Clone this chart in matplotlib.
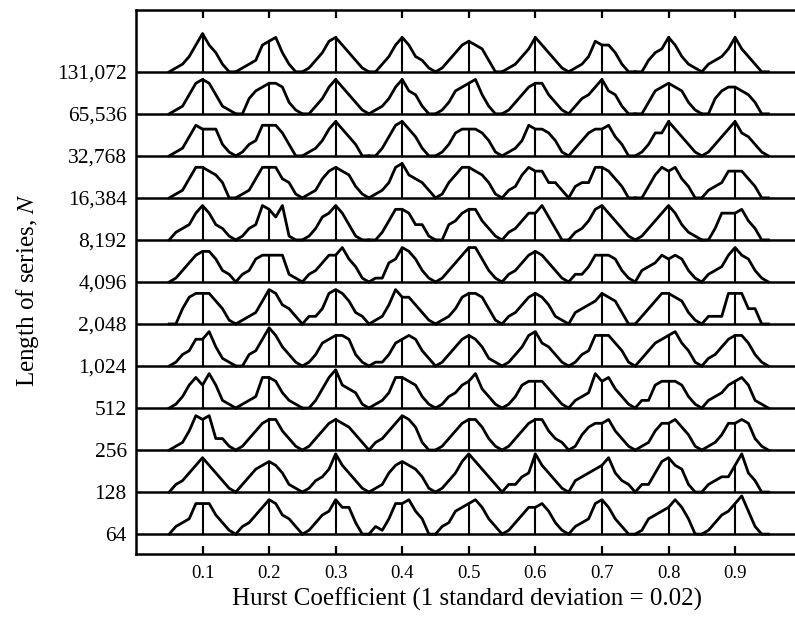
import numpy as np
import matplotlib.pyplot as plt

plt.rcParams['font.family'] = ['Liberation Serif', 'DejaVu Serif']
plt.rcParams['mathtext.fontset'] = 'stix'

# true Hurst values of the simulated series
hurst = [0.1, 0.2, 0.3, 0.4, 0.5, 0.6, 0.7, 0.8, 0.9]
# histogram bins, relative to the true value
offsets = [-0.04, -0.03, -0.02, -0.01, 0.0, 0.01, 0.02, 0.03, 0.04]
row_labels = ['64', '128', '256', '512', '1,024', '2,048', '4,096',
              '8,192', '16,384', '32,768', '65,536', '131,072']

# histogram heights, one list of 9 bins per Hurst value
n_131072 = [[1, 2, 4, 7, 10, 7, 5, 2, 0], [1, 2, 3, 7, 8, 9, 5, 2, 0],
            [1, 3, 5, 8, 9, 7, 5, 3, 1], [0, 2, 4, 7, 9, 7, 4, 3, 1],
            [1, 3, 5, 7, 8, 7, 6, 3, 0], [1, 2, 4, 6, 9, 7, 5, 3, 1],
            [1, 2, 4, 8, 7, 7, 5, 2, 0], [0, 3, 5, 6, 9, 7, 4, 2, 1],
            [2, 3, 4, 6, 9, 6, 4, 2, 0]]
n_65536 = [[1, 2, 5, 8, 9, 8, 5, 2, 1], [0, 4, 6, 7, 8, 8, 7, 3, 1],
           [0, 2, 4, 7, 9, 7, 5, 3, 1], [1, 2, 4, 7, 9, 6, 5, 2, 0],
           [1, 3, 6, 7, 8, 9, 5, 2, 0], [1, 3, 5, 7, 8, 8, 5, 3, 1],
           [2, 4, 5, 7, 9, 6, 5, 2, 0], [0, 3, 6, 7, 8, 7, 6, 3, 1],
           [0, 4, 6, 7, 7, 6, 5, 3, 0]]
n_32768 = [[1, 2, 5, 8, 7, 7, 7, 3, 1], [1, 3, 4, 8, 8, 8, 6, 3, 0],
           [1, 2, 4, 7, 9, 7, 5, 3, 0], [0, 2, 5, 8, 9, 7, 5, 2, 0],
           [1, 3, 6, 7, 7, 7, 6, 4, 1], [1, 2, 4, 8, 7, 7, 6, 4, 1],
           [2, 4, 6, 7, 7, 8, 5, 3, 0], [1, 3, 6, 6, 9, 7, 5, 3, 1],
           [1, 3, 5, 7, 9, 6, 5, 3, 1]]
n_16384 = [[1, 2, 5, 8, 8, 7, 6, 4, 0], [1, 2, 5, 8, 8, 8, 5, 4, 1],
           [1, 2, 5, 7, 8, 7, 6, 3, 1], [1, 2, 4, 8, 9, 6, 5, 4, 2],
           [1, 4, 6, 8, 8, 7, 6, 4, 1], [2, 3, 6, 8, 7, 7, 4, 4, 2],
           [3, 4, 4, 8, 8, 7, 5, 3, 0], [0, 3, 6, 8, 7, 8, 5, 3, 0],
           [2, 3, 4, 7, 7, 7, 5, 3, 0]]
n_8192 = [[2, 3, 4, 7, 9, 7, 4, 3, 1], [1, 3, 4, 9, 8, 6, 9, 1, 0],
          [1, 3, 6, 7, 9, 7, 4, 1, 0], [0, 2, 5, 8, 8, 7, 4, 4, 1],
          [0, 4, 5, 7, 8, 8, 5, 3, 1], [2, 3, 5, 7, 7, 9, 6, 3, 0],
          [2, 3, 5, 8, 9, 7, 5, 3, 1], [1, 3, 5, 7, 9, 7, 4, 2, 1],
          [0, 3, 7, 7, 7, 8, 5, 3, 0]]
n_4096 = [[1, 3, 5, 7, 8, 8, 6, 3, 2], [2, 3, 6, 7, 7, 7, 7, 2, 1],
          [2, 3, 5, 7, 7, 9, 6, 4, 1], [1, 1, 5, 6, 9, 8, 6, 3, 1],
          [1, 3, 5, 7, 9, 9, 6, 3, 1], [2, 3, 5, 7, 8, 7, 5, 3, 1],
          [2, 2, 4, 7, 7, 7, 6, 3, 1], [3, 4, 5, 7, 6, 7, 6, 3, 1],
          [2, 3, 4, 7, 9, 7, 6, 3, 1]]
n_2048 = [[0, 4, 7, 8, 8, 8, 6, 4, 1], [1, 2, 3, 6, 9, 8, 5, 4, 2],
          [2, 2, 4, 8, 9, 8, 6, 3, 2], [1, 2, 5, 9, 7, 7, 5, 3, 1],
          [1, 2, 4, 7, 8, 8, 7, 4, 1], [2, 3, 5, 7, 8, 7, 5, 2, 1],
          [3, 4, 5, 6, 8, 7, 6, 3, 0], [2, 4, 6, 8, 8, 7, 6, 3, 1],
          [2, 2, 2, 8, 8, 8, 4, 4, 0]]
n_1024 = [[1, 3, 4, 7, 7, 9, 5, 2, 1], [0, 3, 4, 7, 10, 8, 5, 3, 1],
          [1, 3, 6, 7, 8, 8, 7, 3, 1], [1, 1, 3, 6, 7, 8, 7, 4, 2],
          [1, 3, 5, 7, 8, 7, 5, 2, 1], [1, 3, 5, 8, 9, 6, 5, 3, 1],
          [1, 3, 4, 8, 8, 8, 6, 4, 1], [2, 4, 6, 7, 8, 9, 6, 4, 1],
          [2, 3, 5, 7, 8, 8, 6, 3, 1]]
n_512 = [[1, 3, 6, 8, 6, 9, 6, 2, 1], [1, 2, 3, 8, 8, 7, 4, 2, 1],
         [0, 2, 5, 8, 10, 6, 5, 4, 1], [1, 2, 4, 8, 8, 7, 6, 3, 1],
         [1, 3, 4, 6, 7, 9, 5, 3, 1], [1, 3, 6, 7, 7, 7, 5, 3, 1],
         [2, 3, 4, 9, 7, 8, 5, 3, 1], [2, 2, 6, 7, 7, 7, 6, 3, 1],
         [2, 3, 4, 6, 7, 8, 6, 2, 1]]
n_256 = [[1, 2, 5, 9, 8, 9, 3, 3, 1], [1, 3, 5, 7, 8, 8, 5, 3, 1],
         [1, 3, 5, 7, 8, 7, 6, 4, 2], [2, 3, 5, 7, 9, 8, 6, 2, 0],
         [1, 3, 5, 7, 8, 8, 6, 3, 1], [1, 3, 5, 7, 8, 8, 5, 3, 2],
         [1, 4, 6, 7, 7, 8, 5, 3, 1], [1, 2, 5, 7, 7, 8, 6, 4, 1],
         [1, 2, 4, 7, 7, 8, 7, 3, 1]]
n_128 = [[2, 3, 5, 7, 9, 7, 5, 3, 1], [2, 4, 6, 7, 8, 7, 5, 2, 1],
         [1, 3, 4, 6, 10, 7, 5, 3, 1], [1, 2, 5, 7, 8, 7, 6, 4, 1],
         [1, 3, 5, 8, 10, 8, 6, 4, 2], [2, 2, 4, 5, 10, 7, 5, 3, 1],
         [3, 4, 5, 6, 7, 9, 5, 3, 2], [2, 2, 5, 8, 9, 7, 6, 2, 0],
         [2, 3, 4, 4, 7, 10, 5, 3, 0]]
n_64 = [[2, 3, 4, 8, 8, 8, 5, 3, 1], [2, 3, 5, 7, 9, 8, 5, 4, 2],
        [1, 3, 5, 6, 9, 7, 7, 3, 0], [2, 1, 4, 8, 8, 9, 6, 4, 0],
        [2, 3, 6, 7, 8, 9, 7, 4, 2], [1, 3, 5, 7, 7, 8, 6, 3, 1],
        [2, 3, 4, 8, 9, 7, 4, 2, 0], [1, 4, 5, 6, 7, 9, 7, 4, 0],
        [1, 3, 5, 6, 8, 10, 6, 2, 0]]

rows = [n_64, n_128, n_256, n_512, n_1024, n_2048, n_4096,
        n_8192, n_16384, n_32768, n_65536, n_131072]

gap = 11  # vertical distance between the baselines

fig = plt.figure(figsize=(7.95, 6.18), dpi=100)
ax = fig.add_axes([0.171, 0.1036, 0.829, 0.881])

for k, row in enumerate(rows):
    base = k * gap
    ax.axhline(base, color='black', lw=1.8)
    for h, heights in zip(hurst, row):
        xs = [h - 0.05] + [h + o for o in offsets] + [h + 0.05]
        ys = [base] + [base + v for v in heights] + [base]
        ax.plot(xs, ys, color='black', lw=2.0)
        # marker for the true value
        ax.plot([h, h], [base, base + heights[4]], color='black', lw=1.5)

ax.set_xlim(0, 0.99)
ax.set_ylim(-5.2, 137.3)

ax.set_yticks([k * gap for k in range(len(rows))], row_labels)
ax.tick_params(axis='y', length=0, pad=6.5, labelsize=15.5)
ax.set_xticks(hurst, ['%.1f' % h for h in hurst])
ax.tick_params(axis='x', direction='in', top=True, length=6, width=1.6,
               labelsize=13.5, pad=8)

ax.spines['right'].set_visible(False)
for s in ['left', 'top', 'bottom']:
    ax.spines[s].set_linewidth(1.8)

fig.text(0.587, 0.031, 'Hurst Coefficient (1 standard deviation = 0.02)',
         ha='center', va='center', fontsize=18)
fig.text(0.035, 0.531, 'Length of series, $N$', rotation=90,
         ha='center', va='center', fontsize=18)

fig.savefig('out.png', dpi=100)
